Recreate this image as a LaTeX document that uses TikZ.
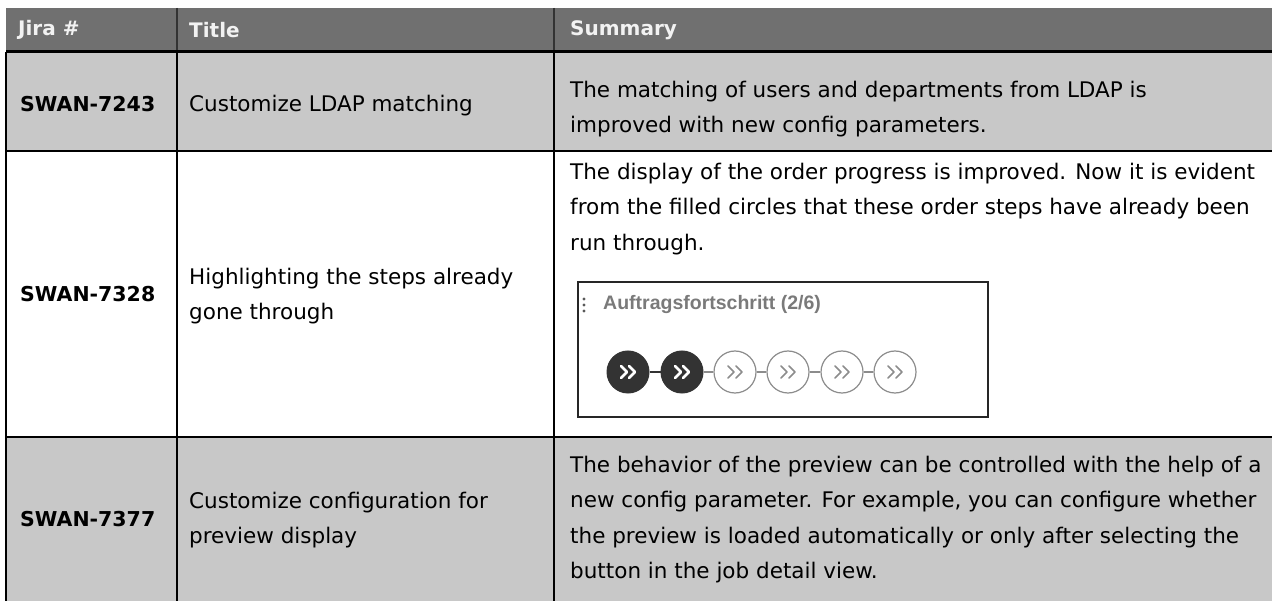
\documentclass[tikz,border=0pt]{standalone}
\usepackage{fontspec}
\setmainfont{DejaVu Sans}
\newfontfamily\boxfont{Liberation Sans}
\definecolor{hdr}{HTML}{707070}
\definecolor{rowg}{HTML}{C8C8C8}
\definecolor{hdrtxt}{HTML}{F2F2F2}
\definecolor{stepdark}{HTML}{333333}
\definecolor{steplight}{HTML}{8C8C8C}
\definecolor{boxtxt}{HTML}{7A7A7A}
\newcommand{\topstrut}{\rule{0pt}{23pt}}
\begin{document}
\begin{tikzpicture}[x=1pt,y=-1pt,
  hdrtext/.style={anchor=west, inner sep=0pt, text=hdrtxt, font=\fontsize{20}{24}\selectfont\bfseries},
  jira/.style={anchor=west, inner sep=0pt, font=\fontsize{20.5}{24}\selectfont\bfseries},
  body/.style={anchor=north west, inner sep=0pt, align=left, font=\fontsize{21.5}{35.5}\selectfont},
  gridline/.style={line width=1.8pt, black},
  stepdone/.style={circle, minimum size=42pt, inner sep=0pt, fill=stepdark, draw=stepdark, line width=1pt},
  steptodo/.style={circle, minimum size=42pt, inner sep=0pt, fill=white, draw=steplight, line width=1.2pt},
  conn/.style={line width=1.8pt},
  chev/.style={line cap=round, line join=round}
]
\useasboundingbox (0,0) rectangle (1272,601);
\clip (0,0) rectangle (1272,601);
\fill[white] (0,0) rectangle (1272,601);
% backgrounds
\fill[hdr] (6,8) rectangle (1272,52);
\fill[rowg] (6,52) rectangle (1272,151);
\fill[rowg] (6,437) rectangle (1272,601);
% grid
\draw[line width=1.2pt, black!80] (177,8) -- (177,52) (554,8) -- (554,52);
\draw[gridline] (6,52) -- (6,601);
\draw[gridline] (177,52) -- (177,601);
\draw[gridline] (554,52) -- (554,601);
\draw[gridline] (6,151) -- (1272,151);
\draw[gridline] (6,437) -- (1272,437);
\draw[line width=3pt] (6,52) -- (1272,52);
% header
\node[hdrtext] (hj) at (18,30) {Jira \#};
\node[hdrtext] (ht) at (189,30) {Title};
\node[hdrtext] (hs) at (570,30) {Summary};
% row 1
\node[jira] (j1) at (20,104) {SWAN-7243};
\node[body] (t1) at (189,88) {\topstrut Customize LDAP matching};
\node[body] (s1) at (570,74) {\topstrut The matching of users and departments from LDAP is\\improved with new config parameters.};
% row 2
\node[jira] (j2) at (20,294) {SWAN-7328};
\node[body] (t2) at (189,261) {\topstrut Highlighting the steps already\\gone through};
\node[body] (s2) at (570,156) {\topstrut The display of the order progress is improved. Now it is evident\\from the filled circles that these order steps have already been\\run through.};
% progress picture
\draw[line width=1.3pt, black!85] (578,282) rectangle (988,417);
\fill[black!65] (584,299) circle (1.7pt) (584,305) circle (1.7pt) (584,311) circle (1.7pt);
\node[anchor=west, inner sep=0pt, text=boxtxt, font=\boxfont\fontsize{19.5}{22}\selectfont\bfseries] (ptitle) at (603,305) {Auftragsfortschritt (2/6)};
\node[stepdone] (c1) at (628,372) {};
\node[stepdone] (c2) at (682,372) {};
\node[steptodo] (c3) at (735,372) {};
\node[steptodo] (c4) at (788,372) {};
\node[steptodo] (c5) at (842,372) {};
\node[steptodo] (c6) at (895,372) {};
\draw[conn, stepdark] (c1) -- (c2);
\draw[conn, steplight] (c2) -- (c3);
\draw[conn, steplight] (c3) -- (c4);
\draw[conn, steplight] (c4) -- (c5);
\draw[conn, steplight] (c5) -- (c6);
\foreach \n/\col/\w in {c1/white/2.8, c2/white/2.8, c3/steplight/1.6, c4/steplight/1.6, c5/steplight/1.6, c6/steplight/1.6}{
  \draw[chev, draw=\col, line width=\w pt] ([shift={(-7,-6)}]\n.center) -- ++(6,6) -- ++(-6,6);
  \draw[chev, draw=\col, line width=\w pt] ([shift={(1,-6)}]\n.center) -- ++(6,6) -- ++(-6,6);
}
% row 3
\node[jira] (j3) at (20,519) {SWAN-7377};
\node[body] (t3) at (189,485) {\topstrut Customize configuration for\\preview display};
\node[body] (s3) at (570,449) {\topstrut The behavior of the preview can be controlled with the help of a\\new config parameter. For example, you can configure whether\\the preview is loaded automatically or only after selecting the\\button in the job detail view.};
\end{tikzpicture}
\end{document}
